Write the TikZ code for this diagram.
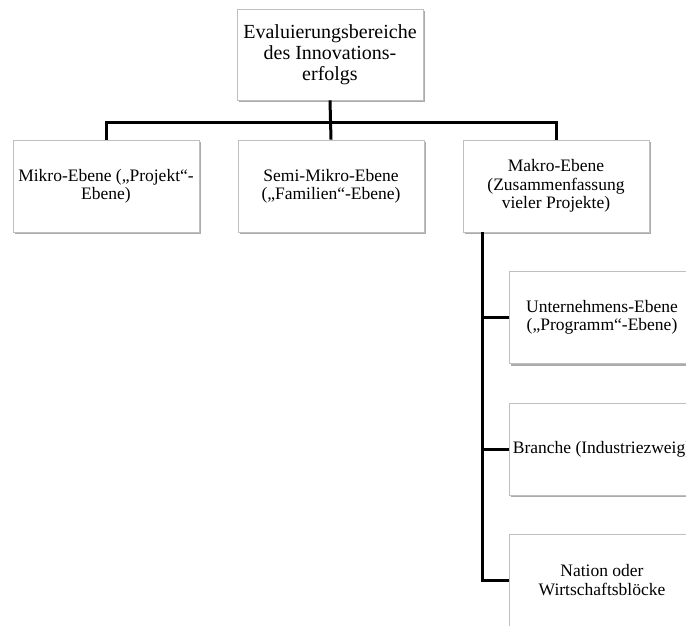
\documentclass[tikz,border=0pt]{standalone}
\usepackage{fontspec}
\setmainfont{Liberation Serif}
\usetikzlibrary{shadows}
\begin{document}
\begin{tikzpicture}[x=1pt,y=-1pt,
  box/.style={rectangle, draw=black!25, line width=0.9pt, fill=white,
    minimum width=186pt, minimum height=92pt, inner sep=0pt, align=center,
    font=\fontsize{17.5}{18.3}\selectfont,
    drop shadow={shadow xshift=1.8pt, shadow yshift=-2pt, fill=black!55, opacity=.6}},
  topbox/.style={box, minimum height=91pt, font=\fontsize{20}{21}\selectfont},
  link/.style={line width=3pt}]
\useasboundingbox (0,0) rectangle (686,625);
\clip (0,0) rectangle (686,625);
\fill[white] (0,0) rectangle (686,625);

% top level
\node[topbox] (root) at (330,54.5) {Evaluierungsbereiche\\des Innovations-\\erfolgs};

% second level
\node[box] (mikro) at (106,186) {Mikro-Ebene („Projekt“-\\Ebene)};
\node[box] (semi)  at (331,186) {Semi-Mikro-Ebene\\(„Familien“-Ebene)};
\node[box] (makro) at (556,186) {Makro-Ebene\\(Zusammenfassung\\vieler Projekte)};

% third level below the macro level
\node[box] (unt)    at (602,317.5) {Unternehmens-Ebene\\(„Programm“-Ebene)};
\node[box] (branche) at (602,449)  {\makebox[0pt][c]{Branche (Industriezweig)}};
\node[box] (nation) at (602,580)   {Nation oder\\Wirtschaftsblöcke};

% tree connectors
\coordinate (bar) at (0,122);
\draw[link] (root.south) -- (semi.north);
\draw[link] (mikro.north) |- (bar -| makro.north) -- (makro.north);
\coordinate (trunk) at (482,0);
\draw[link] (trunk |- makro.south) |- (nation.west);
\draw[link] (trunk |- unt.west) -- (unt.west);
\draw[link] (trunk |- branche.west) -- (branche.west);
\end{tikzpicture}
\end{document}
